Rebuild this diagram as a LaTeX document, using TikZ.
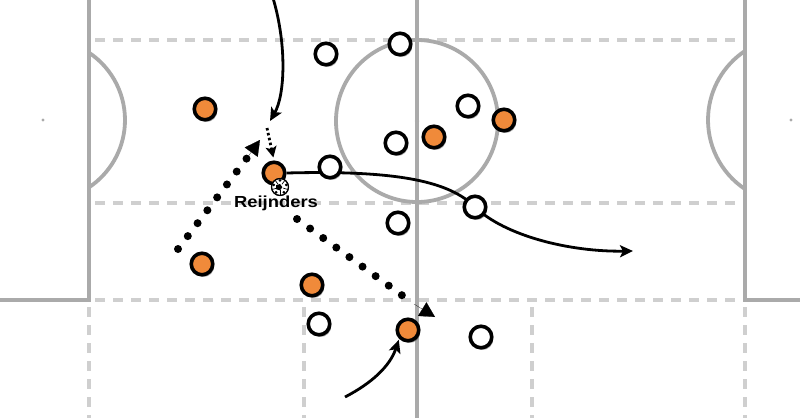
\documentclass[tikz,border=0pt]{standalone}
\usepackage{fontspec}
\newfontfamily\lab[FakeStretch=1.15]{Liberation Sans}
\usetikzlibrary{arrows.meta,shadows}
\definecolor{orangec}{HTML}{F08A3A}
\definecolor{pitchc}{HTML}{AAAAAA}
\definecolor{dashc}{HTML}{CFCFCF}
\pgfdeclarelayer{pitchlayer}
\pgfdeclarelayer{linklayer}
\pgfsetlayers{pitchlayer,linklayer,main}
\tikzset{
  pitch/.style={draw=pitchc, line width=3.8pt},
  zone/.style={draw=dashc, line width=3.8pt, dash pattern=on 10pt off 8pt},
  player/.style={circle, draw=black, line width=3.6pt, minimum size=21.5pt, inner sep=0pt,
    drop shadow={shadow xshift=1.5pt, shadow yshift=-2.2pt, opacity=0.35, fill=black}},
  home/.style={player, fill=orangec},
  away/.style={player, fill=white},
  run/.style={draw=black, line width=2.8pt, -{Stealth[length=13pt,width=12pt,inset=3pt]}},
  shortrun/.style={draw=black, line width=2.8pt, dash pattern=on 2.5pt off 2.5pt,
    -{Stealth[length=11pt,width=11pt,inset=2.5pt]}},
  pass/.style={draw=black, line width=8pt, line cap=round, dash pattern=on 0pt off 16.2pt},
  passtip/.style={draw=black, line width=0.2pt, -{Triangle[length=15pt,width=16pt]}},
  lbl/.style={font=\lab\bfseries\fontsize{16}{16}\selectfont, inner sep=0pt}
}
\begin{document}
\begin{tikzpicture}[x=1pt,y=-1pt]
\useasboundingbox (0,0) rectangle (800,418);
\clip (0,0) rectangle (800,418);

% pitch
\begin{pgfonlayer}{pitchlayer}
  \fill[white] (0,0) rectangle (800,418);
  \draw[zone] (95,40) -- (740,40);
  \draw[zone] (95,203) -- (740,203);
  \draw[zone] (95,300) -- (740,300);
  \foreach \xx in {89,304,532,745} \draw[zone] (\xx,307) -- (\xx,418);
  \draw[pitch] (0,300) -- (89,300) -- (89,0);
  \draw[pitch] (800,300) -- (745,300) -- (745,0);
  \draw[pitch] (417,0) -- (417,418);
  \draw[pitch] (417,121) circle[radius=81];
  \fill[pitchc] (417,121) circle[radius=2.2];
  \draw[pitch] (44,120) ++(-56.25:81) arc[start angle=-56.25, end angle=56.25, radius=81];
  \draw[pitch] (791,120) ++(123.7:83) arc[start angle=123.7, end angle=236.3, radius=83];
  \fill[pitchc] (43,120) circle[radius=1.7];
  \fill[pitchc] (791,120) circle[radius=1.7];
\end{pgfonlayer}

% players
\node[home] (o1) at (205,109) {};
\node[home] (rj) at (274,173) {};
\node[home] (o3) at (434,137) {};
\node[home] (o4) at (504,120) {};
\node[home] (o5) at (202,264) {};
\node[home] (o6) at (312,285) {};
\node[home] (o7) at (408,330) {};

\node[away] (w1) at (326,54) {};
\node[away] (w2) at (400,44) {};
\node[away] (w3) at (330,167) {};
\node[away] (w4) at (468,106) {};
\node[away] (w5) at (396,143) {};
\node[away] (w6) at (475,207) {};
\node[away] (w7) at (398,223) {};
\node[away] (w8) at (319,324) {};
\node[away] (w9) at (481,337) {};

% ball
\node[circle, draw=black, fill=white, line width=1pt, minimum size=17pt, inner sep=0pt] (ball) at (280,187) {};
\fill[black] (280,187) ++(90:3.4) -- ++(-54:4) -- ++(-126:4) -- ++(162:4) -- ++(90:4) -- cycle;
\foreach \a in {90,162,234,306,18}
  \draw[black, line width=0.7pt] (280,187) ++(\a:3.4) -- ++(\a:4.6);
\foreach \a in {126,198,270,342,54}
  \fill[black] (280,187) ++(\a:6.6) circle[radius=1.5];
\draw[black, line width=1.1pt] (ball) circle[radius=8.5];

\node[lbl] (name) at (276,203) {Reijnders};

% connectors
\coordinate (aS) at (273,-2);
\coordinate (aE) at (270,121);
\coordinate (bS) at (267,128);
\coordinate (cS) at (178,249);
\coordinate (cL) at (247,158);
\coordinate (cT) at (260,140);
\coordinate (dS) at (297,219);
\coordinate (dL) at (414,304);
\coordinate (dT) at (435,317);
\coordinate (eE) at (633,251);
\coordinate (fS) at (345,397);

\begin{pgfonlayer}{linklayer}
  \draw[run] (aS) .. controls (287,45) and (285,95) .. (aE);
  \draw[shortrun, shorten >=3pt] (bS) -- (rj.north);
  \draw[pass] (cS) -- (cL);
  \draw[passtip] (cL) -- (cT);
  \draw[pass] (dS) -- (dL);
  \draw[passtip] (dL) -- (dT);
  \draw[run] (rj.east) .. controls (400,170) and (450,182) .. (w6.center)
     .. controls (505,236) and (570,252) .. (eE);
  \draw[run, shorten >=1pt] (fS) .. controls (372,383) and (390,366) .. (o7.south west);
\end{pgfonlayer}
\end{tikzpicture}
\end{document}
